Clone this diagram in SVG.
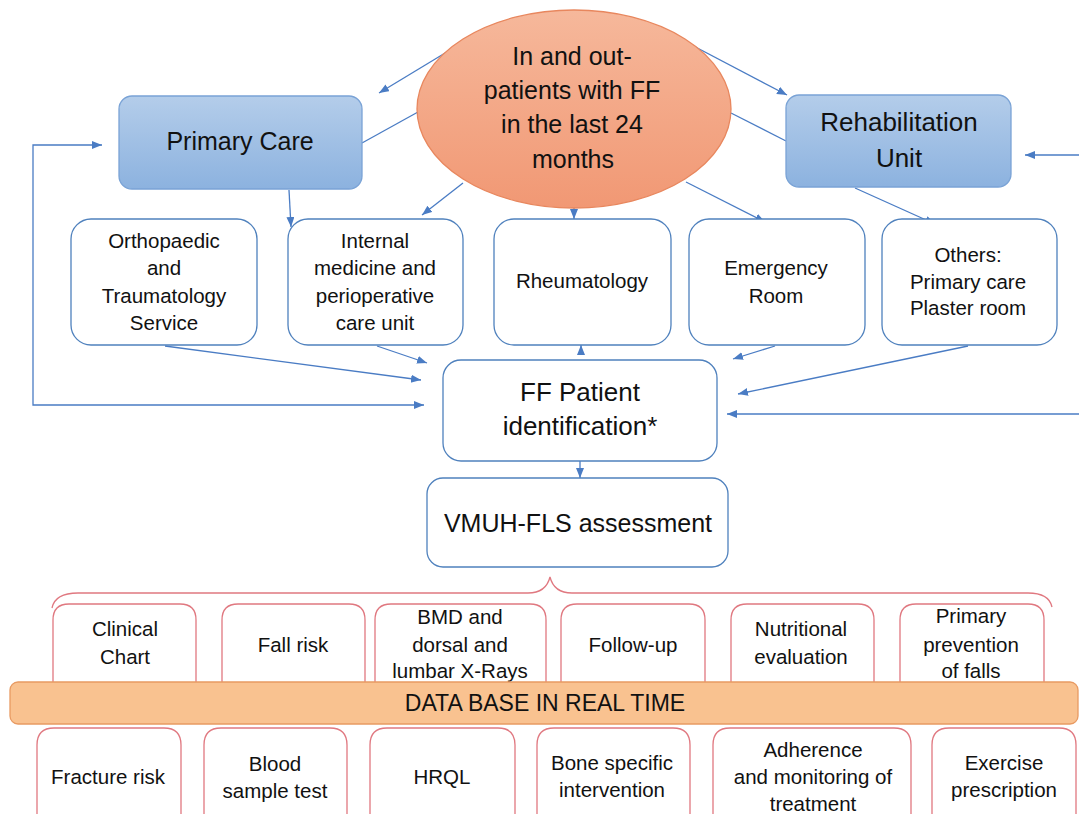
<svg xmlns="http://www.w3.org/2000/svg" width="1079" height="814" viewBox="0 0 1079 814">
<style>
text{font-family:"Liberation Sans",Arial,sans-serif;fill:#111;text-anchor:middle}
.big{font-size:25px}
.big2{font-size:26px}
.mid{font-size:20.5px}
.db{font-size:23px}
.blue{fill:url(#gBlue);stroke:#7aa3d6;stroke-width:1.3}
.wbox{fill:#fff;stroke:#4f81bd;stroke-width:1.3}
.pbox{fill:#fff;stroke:#e07880;stroke-width:1.3}
.con{fill:none;stroke:#4a7cc4;stroke-width:1.3}
.arr{marker-end:url(#ah)}
</style>
<defs>
<linearGradient id="gBlue" x1="0" y1="0" x2="0" y2="1"><stop offset="0" stop-color="#b4cdea"/><stop offset="1" stop-color="#8cb2df"/></linearGradient>
<linearGradient id="gEll" x1="0" y1="0" x2="0" y2="1"><stop offset="0" stop-color="#f6b89b"/><stop offset="1" stop-color="#f19874"/></linearGradient>
<marker id="ah" markerUnits="userSpaceOnUse" markerWidth="11" markerHeight="9" refX="10" refY="4" orient="auto"><path d="M0,0 L10,4 L0,8 z" fill="#4a7cc4"/></marker>
<marker id="ahs" markerUnits="userSpaceOnUse" markerWidth="11" markerHeight="9" refX="10" refY="4" orient="auto-start-reverse"><path d="M0,0 L10,4 L0,8 z" fill="#4a7cc4"/></marker>
</defs>
<rect width="1079" height="814" fill="#fff"/>

<g id="connectors">
<path class="con arr" d="M465,41 L379,93"/>
<path class="con" d="M362,143 L418,112"/>
<path class="con arr" d="M463,183 L422,215"/>
<path class="con arr" d="M289,190 L291,227"/>
<path class="con" d="M102,145 H33 V405 H424" marker-start="url(#ahs)" marker-end="url(#ah)"/>
<path class="con arr" d="M684,41 L787,95"/>
<path class="con" d="M731,113 L786,141"/>
<path class="con arr" d="M686,182 L765,222"/>
<path class="con arr" d="M574,205 L574,219"/>
<path class="con arr" d="M855,188 L935,224"/>
<path class="con arr" d="M1079,155 L1025,155"/>
<path class="con arr" d="M1079,414 L727,414"/>
<path class="con arr" d="M165,346 L421,380"/>
<path class="con arr" d="M377,346 L427,363"/>
<path class="con arr" d="M581,354 L581,345"/>
<path class="con arr" d="M775,346 L733,359"/>
<path class="con arr" d="M968,346 L738,394"/>
<path class="con arr" d="M580,461 L580,478"/>
</g>

<g id="ellipse">
<ellipse cx="574" cy="109" rx="157" ry="99" fill="url(#gEll)" stroke="#e8875e" stroke-width="1.3"/>
<text class="big" x="572" y="65">In and out-</text>
<text class="big" x="572" y="99">patients with FF</text>
<text class="big" x="572" y="133">in the last 24</text>
<text class="big" x="573" y="168">months</text>
</g>

<g id="primary-care">
<rect class="blue" x="119" y="96" width="243" height="93" rx="13"/>
<text class="big" x="240" y="150">Primary Care</text>
</g>
<g id="rehab">
<rect class="blue" x="786" y="95" width="225" height="92" rx="13"/>
<text class="big2" x="899" y="131">Rehabilitation</text>
<text class="big2" x="899" y="167">Unit</text>
</g>

<g id="ortho">
<rect class="wbox" x="71" y="219" width="186" height="126" rx="20"/>
<text class="mid" x="164" y="248">Orthopaedic</text>
<text class="mid" x="164" y="275">and</text>
<text class="mid" x="164" y="303">Traumatology</text>
<text class="mid" x="164" y="330">Service</text>
</g>
<g id="internal">
<rect class="wbox" x="288" y="219" width="175" height="126" rx="20"/>
<text class="mid" x="375" y="248">Internal</text>
<text class="mid" x="375" y="275">medicine and</text>
<text class="mid" x="375" y="303">perioperative</text>
<text class="mid" x="375" y="330">care unit</text>
</g>
<g id="rheuma">
<rect class="wbox" x="494" y="219" width="177" height="126" rx="20"/>
<text class="mid" x="582" y="288">Rheumatology</text>
</g>
<g id="emergency">
<rect class="wbox" x="689" y="219" width="176" height="126" rx="20"/>
<text class="mid" x="776" y="275">Emergency</text>
<text class="mid" x="776" y="303">Room</text>
</g>
<g id="others">
<rect class="wbox" x="882" y="219" width="175" height="126" rx="20"/>
<text class="mid" x="968" y="262">Others:</text>
<text class="mid" x="968" y="289">Primary care</text>
<text class="mid" x="968" y="315">Plaster room</text>
</g>

<g id="ff-patient">
<rect class="wbox" x="443" y="360" width="274" height="101" rx="18"/>
<text class="big2" x="580" y="401">FF Patient</text>
<text class="big2" x="580" y="435">identification*</text>
</g>
<g id="vmuh">
<rect class="wbox" x="427" y="478" width="301" height="89" rx="16"/>
<text class="big" x="578" y="532">VMUH-FLS assessment</text>
</g>

<g id="brace">
<path d="M52,608 Q55,593 78,593 H528 Q546,593 550,577 Q554,593 572,593 H1028 Q1049,593 1052,607" fill="none" stroke="#e07880" stroke-width="1.3"/>
</g>

<g id="clinical">
<path class="pbox" d="M53,690 V620 Q53,604 69,604 H180 Q196,604 196,620 V690"/>
<text class="mid" x="125" y="636">Clinical</text>
<text class="mid" x="125" y="664">Chart</text>
</g>
<g id="fallrisk">
<path class="pbox" d="M222,690 V620 Q222,604 238,604 H349 Q365,604 365,620 V690"/>
<text class="mid" x="293" y="652">Fall risk</text>
</g>
<g id="bmd">
<path class="pbox" d="M375,690 V620 Q375,604 391,604 H530 Q546,604 546,620 V690"/>
<text class="mid" x="460" y="624">BMD and</text>
<text class="mid" x="460" y="652">dorsal and</text>
<text class="mid" x="460" y="678">lumbar X-Rays</text>
</g>
<g id="followup">
<path class="pbox" d="M561,690 V620 Q561,604 577,604 H689 Q705,604 705,620 V690"/>
<text class="mid" x="633" y="652">Follow-up</text>
</g>
<g id="nutritional">
<path class="pbox" d="M731,690 V620 Q731,604 747,604 H858 Q874,604 874,620 V690"/>
<text class="mid" x="801" y="636">Nutritional</text>
<text class="mid" x="801" y="664">evaluation</text>
</g>
<g id="prevention">
<path class="pbox" d="M900,690 V620 Q900,604 916,604 H1028 Q1044,604 1044,620 V690"/>
<text class="mid" x="971" y="623">Primary</text>
<text class="mid" x="971" y="652">prevention</text>
<text class="mid" x="971" y="678">of falls</text>
</g>

<g id="database">
<rect x="10" y="682" width="1068" height="42" rx="8" fill="#f9c290" stroke="#e89a62" stroke-width="1.3"/>
<text class="db" x="545" y="711">DATA BASE IN REAL TIME</text>
</g>

<g id="fracture">
<path class="pbox" d="M37,820 V745 Q37,728 54,728 H164 Q181,728 181,745 V820"/>
<text class="mid" x="108" y="784">Fracture risk</text>
</g>
<g id="blood">
<path class="pbox" d="M204,820 V745 Q204,728 221,728 H330 Q347,728 347,745 V820"/>
<text class="mid" x="275" y="771">Blood</text>
<text class="mid" x="275" y="798">sample test</text>
</g>
<g id="hrql">
<path class="pbox" d="M370,820 V745 Q370,728 387,728 H498 Q515,728 515,745 V820"/>
<text class="mid" x="442" y="784">HRQL</text>
</g>
<g id="bone">
<path class="pbox" d="M537,820 V745 Q537,728 554,728 H673 Q690,728 690,745 V820"/>
<text class="mid" x="612" y="770">Bone specific</text>
<text class="mid" x="612" y="797">intervention</text>
</g>
<g id="adherence">
<path class="pbox" d="M713,820 V745 Q713,728 730,728 H894 Q911,728 911,745 V820"/>
<text class="mid" x="813" y="757">Adherence</text>
<text class="mid" x="813" y="784">and monitoring of</text>
<text class="mid" x="813" y="811">treatment</text>
</g>
<g id="exercise">
<path class="pbox" d="M932,820 V745 Q932,728 949,728 H1059 Q1076,728 1076,745 V820"/>
<text class="mid" x="1004" y="770">Exercise</text>
<text class="mid" x="1004" y="797">prescription</text>
</g>
</svg>
